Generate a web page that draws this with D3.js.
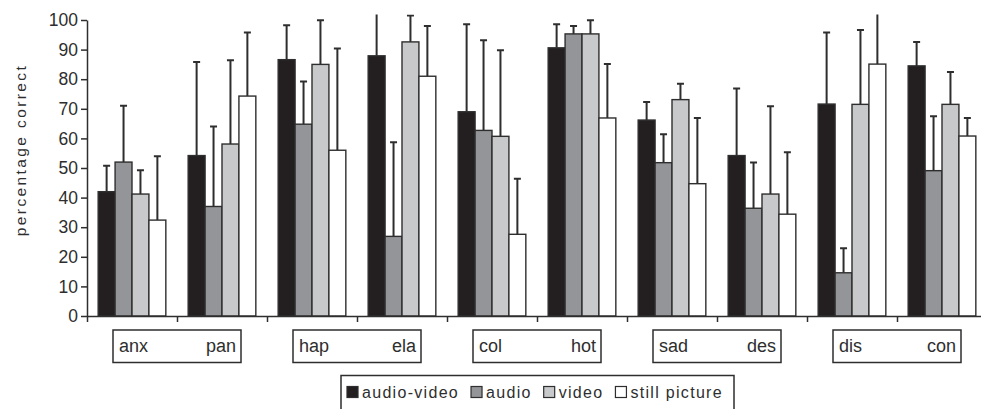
<!DOCTYPE html>
<html>
<head>
<meta charset="utf-8">
<script src="https://cdn.jsdelivr.net/npm/d3@7"></script>
<style>
  body { margin: 0; background: #fff; }
  svg { display: block; font-family: "Liberation Sans", Arial, sans-serif; }
</style>
</head>
<body>
<div id="chart"></div>
<script>
const categories = ["anx", "pan", "hap", "ela", "col", "hot", "sad", "des", "dis", "con"];
const series = ["audio-video", "audio", "video", "still picture"];

const audioVideo = [42, 54.2, 86.6, 87.9, 69, 90.6, 66.2, 54.2, 71.6, 84.5];
const audio = [52, 37, 64.8, 26.9, 62.7, 95.3, 51.8, 36.4, 14.6, 49.1];
const video = [41.2, 58.1, 85, 92.6, 60.7, 95.3, 73.1, 41.2, 71.5, 71.5];
const still = [32.4, 74.3, 56, 81, 27.6, 66.9, 44.7, 34.4, 85.1, 60.8];

// upper error bar length
const audioVideoErr = [8.8, 31.6, 11.6, 15, 29.6, 8, 6.1, 22.7, 24.2, 8.1];
const audioErr = [19, 27, 14.4, 31.8, 30.5, 2.7, 9.6, 15.5, 8.3, 18.4];
const videoErr = [8, 28.3, 14.9, 8.9, 29.1, 4.6, 5.4, 29.7, 25.1, 10.9];
const stillErr = [21.6, 21.5, 34.4, 17, 18.8, 18.2, 22.2, 20.9, 18, 6.1];

const yTicks = [0, 10, 20, 30, 40, 50, 60, 70, 80, 90, 100];

const colors = ["#231f20", "#939598", "#c8c9cb", "#ffffff"];
const ink = "#2e2e2e";

const width = 981, height = 409;
const plotLeft = 87, plotRight = 987, plotTop = 20, plotBottom = 316;

const values = [audioVideo, audio, video, still];
const errors = [audioVideoErr, audioErr, videoErr, stillErr];

const svg = d3.select("#chart").append("svg")
  .attr("width", width)
  .attr("height", height);

const x0 = d3.scaleBand().domain(categories).range([plotLeft, plotRight]).padding(0);
const x1 = d3.scaleBand().domain(series).range([0, x0.bandwidth()])
  .paddingInner(0).paddingOuter(0.66);
const y = d3.scaleLinear().domain([0, 100]).range([plotBottom, plotTop]);

svg.append("clipPath").attr("id", "plot")
  .append("rect").attr("x", plotLeft).attr("y", 14.5)
  .attr("width", plotRight - plotLeft).attr("height", plotBottom - 14.5);

const rows = [];
categories.forEach((c, i) => {
  series.forEach((s, j) => {
    rows.push({ cat: c, ser: s, j, v: values[j][i], e: errors[j][i] });
  });
});

const plot = svg.append("g").attr("clip-path", "url(#plot)");

// error bars (drawn first so bars sit over the stems)
const eb = plot.append("g").selectAll("g").data(rows).join("g")
  .attr("transform", d => `translate(${x0(d.cat) + x1(d.ser) + x1.bandwidth() / 2},0)`);
eb.append("line")
  .attr("y1", d => y(d.v)).attr("y2", d => y(d.v + d.e))
  .attr("stroke", ink).attr("stroke-width", 2);
eb.append("line")
  .attr("x1", -3.5).attr("x2", 3.5)
  .attr("y1", d => y(d.v + d.e)).attr("y2", d => y(d.v + d.e))
  .attr("stroke", ink).attr("stroke-width", 2);

plot.append("g").selectAll("rect").data(rows).join("rect")
  .attr("x", d => x0(d.cat) + x1(d.ser))
  .attr("y", d => y(d.v))
  .attr("width", x1.bandwidth())
  .attr("height", d => y(0) - y(d.v))
  .attr("fill", d => colors[d.j])
  .attr("stroke", ink)
  .attr("stroke-width", 1.4);

// y axis
const yAxis = svg.append("g")
  .attr("transform", `translate(${plotLeft},0)`)
  .call(d3.axisLeft(y).tickValues(yTicks).tickSize(6).tickSizeOuter(0).tickPadding(3));
yAxis.select(".domain").attr("stroke", ink).attr("stroke-width", 1.5);
yAxis.selectAll(".tick line").attr("stroke", ink).attr("stroke-width", 1.5);
yAxis.selectAll(".tick text")
  .attr("fill", ink).style("font-size", "17.5px").style("font-family", "Liberation Sans, Arial");

svg.append("text")
  .attr("transform", `translate(26,${(63 + 237) / 2}) rotate(-90)`)
  .attr("text-anchor", "middle")
  .attr("fill", ink)
  .style("font-size", "15.5px")
  .style("letter-spacing", "2.4px")
  .text("percentage correct");

// x axis with ticks on category boundaries
const xEdge = d3.scaleLinear().domain([0, categories.length]).range([plotLeft, plotRight]);
const xAxis = svg.append("g")
  .attr("transform", `translate(0,${plotBottom})`)
  .call(d3.axisBottom(xEdge).tickValues(d3.range(categories.length + 1))
    .tickFormat("").tickSize(6).tickSizeOuter(0));
xAxis.select(".domain").attr("stroke", ink).attr("stroke-width", 1.5);
xAxis.selectAll(".tick line").attr("stroke", ink).attr("stroke-width", 1.5);

// paired category label boxes
const pairs = d3.range(0, categories.length, 2).map(i => [categories[i], categories[i + 1]]);
const boxes = svg.append("g").selectAll("g").data(pairs).join("g")
  .attr("transform", d => `translate(${x0(d[0]) + 26},330)`);
const boxW = x0.bandwidth() * 2 - 52;
boxes.append("rect")
  .attr("width", boxW).attr("height", 32.5)
  .attr("fill", "none").attr("stroke", ink).attr("stroke-width", 1.5);
boxes.append("text")
  .attr("x", 6).attr("y", 22)
  .attr("fill", ink).style("font-size", "18px")
  .text(d => d[0]);
boxes.append("text")
  .attr("x", boxW - 5).attr("y", 22)
  .attr("text-anchor", "end")
  .attr("fill", ink).style("font-size", "18px")
  .text(d => d[1]);

// legend
const legend = svg.append("g");
legend.append("rect")
  .attr("x", 341).attr("y", 375.5).attr("width", 393).attr("height", 40)
  .attr("fill", "#fff").attr("stroke", ink).attr("stroke-width", 1.5);
let lx = 347;
series.forEach((s, j) => {
  legend.append("rect")
    .attr("x", lx).attr("y", 386.5).attr("width", 11).attr("height", 11)
    .attr("fill", colors[j]).attr("stroke", ink).attr("stroke-width", 1.2);
  const t = legend.append("text")
    .attr("x", lx + 15).attr("y", 398)
    .attr("fill", ink).style("font-size", "16px").style("letter-spacing", "1.3px")
    .text(s);
  lx += 15 + t.node().getComputedTextLength() + 12;
});
</script>
</body>
</html>
